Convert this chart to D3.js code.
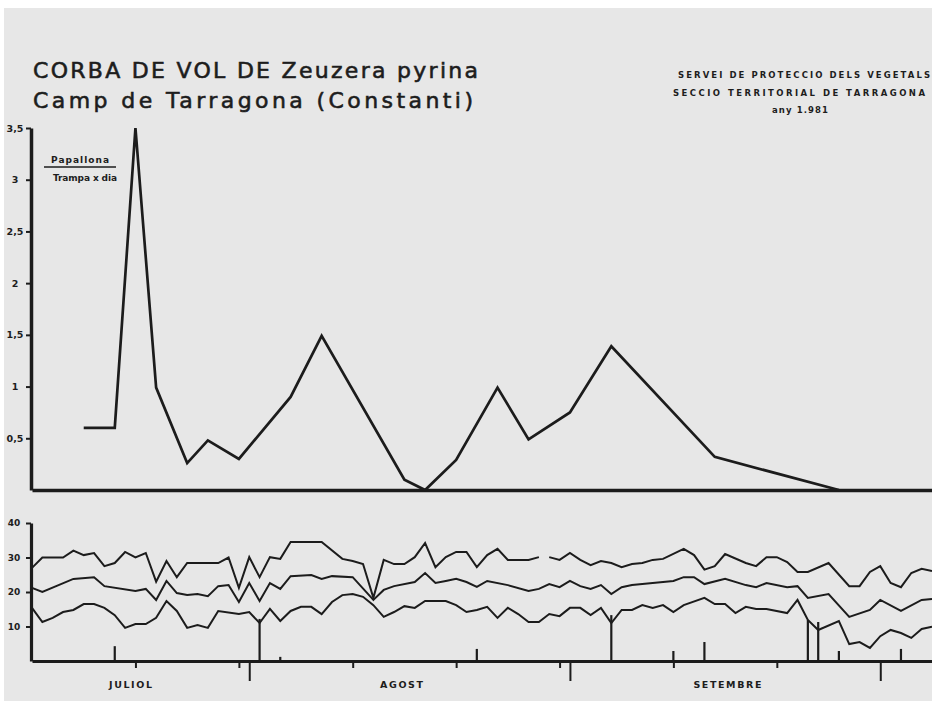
<!DOCTYPE html>
<html><head><meta charset="utf-8">
<script src="https://cdn.jsdelivr.net/npm/d3@7"></script>
<style>
html,body{margin:0;padding:0;background:#fff;}
svg{display:block;}
text{font-family:"DejaVu Sans",sans-serif;fill:#1d1d1d;}
</style></head>
<body>
<svg id="chart" width="932" height="701"></svg>
<script>
// ---------- DATA ----------
// Day index: 0 = 1 July 1981
const flightDays = [5, 8, 10, 12, 15, 17, 20, 25, 28, 36, 38, 41, 45, 48, 52, 56, 66, 78];
const flightVals = [0.6, 0.6, 3.5, 0.99, 0.26, 0.48, 0.3, 0.9, 1.49, 0.1, 0.0, 0.29, 0.99, 0.49, 0.75, 1.39, 0.32, 0.0];

const tmaxDays = [0,1,3,4,5,6,7,8,9,10,11,12,13,14,15,18,19,20,21,22,23,24,25,28,30,31,32,33,34,35,36,37,38,39,40,41,42,43,44,45,46,48,49,49.6,50,51,52,53,54,55,56,57,58,59,60,61,63,64,65,66,67,69,70,71,72,73,74,75,77,79,80,81,82,83,84,85,86,87];
const tmaxVals = [27,30,30,32,30.7,31.3,27.5,28.4,31.6,30,31.3,23,29,24.3,28.4,28.4,30,21.2,30.1,24.3,30.1,29.6,34.5,34.5,29.6,29,28.1,18.3,29.3,28.1,28.1,30.1,34.2,27.2,30.1,31.6,31.6,27.2,30.7,32.5,29.3,29.3,30.1,null,30.1,29.3,31.3,29.3,27.8,29,28.4,27.2,28.1,28.4,29.3,29.6,32.5,30.7,26.5,27.5,31,28.4,27.5,30.1,30.1,28.7,25.8,25.8,28.4,21.7,21.7,25.8,27.5,22.6,21.4,25.5,26.7,26.1];

const tmeanDays = [0,1,4,6,7,10,11,12,13,14,15,16,17,18,19,20,21,22,23,24,25,27,28,29,31,33,34,35,37,38,39,40,41,42,43,44,46,48,49,50,51,52,53,54,55,56,57,58,60,62,63,64,65,67,69,70,71,73,74,75,77,79,81,82,84,86,87];
const tmeanVals = [21.2,20,23.8,24.3,21.7,20.3,20.9,17.7,23.2,19.7,19.1,19.4,18.8,21.7,22,17.1,22.6,17.4,22.6,20.9,24.6,24.9,23.8,24.6,24.3,17.7,20.6,21.7,22.9,25.5,22.6,23.2,23.8,22.9,21.5,23.2,22,20.3,20.9,22.3,21.4,23.2,21.7,20.9,22,19.4,21.4,22,22.6,23.2,24.3,24.3,22.3,23.8,22,21.4,22.6,21.4,21.7,18.3,19.4,12.8,14.8,17.7,14.5,17.7,18];

const tminDays = [0,1,2,3,4,5,6,7,8,9,10,11,12,13,14,15,16,17,18,20,21,22,23,24,25,26,27,28,29,30,31,32,33,34,35,36,37,38,40,41,42,43,44,45,46,47,48,49,50,51,52,53,54,55,56,57,58,59,60,61,62,63,65,66,67,68,69,70,71,73,74,75,76,78,79,80,81,82,83,84,85,86,87];
const tminVals = [15.4,11.3,12.5,14.2,14.8,16.5,16.5,15.4,13.3,9.6,10.7,10.7,12.5,17.4,14.5,9.6,10.4,9.6,14.5,13.6,14.2,11,15.1,11.6,14.5,15.7,15.7,13.6,17.1,19.1,19.4,18.6,16.2,12.8,14.2,15.9,15.4,17.4,17.4,16.2,14.2,14.8,15.7,12.5,15.4,13.6,11.3,11.3,13.6,13,15.4,15.4,13.3,15.4,11,14.8,14.8,16.2,15.4,16.2,14.2,16.2,18.3,16.5,16.5,13.9,15.7,15.1,15.1,13.9,17.7,11.9,9,11.6,4.9,5.5,3.8,7.2,9,8.1,6.7,9.3,9.9];

const rainDays = [8, 22, 24, 43, 56, 62, 65, 75, 76, 78, 84];
const rainVals = [4.3, 12.2, 1.2, 3.5, 13.3, 2.9, 5.5, 11.9, 11.3, 2.9, 3.5];

const shortTickDays = [10, 20, 31, 41, 51, 62, 72];
const longTickDays = [21, 52, 82];

const monthNames = ["JULIOL", "AGOST", "SETEMBRE"];
const monthCenters = [9.6, 35.8, 67.3];

const topTicks = [0.5, 1, 1.5, 2, 2.5, 3, 3.5];
const bottomTicks = [10, 20, 30, 40];

// ---------- DRAW ----------
const svg = d3.select("#chart");
const ink = "#1c1c1c";

svg.append("rect").attr("x",0).attr("y",0).attr("width",932).attr("height",701).attr("fill","#ffffff");
svg.append("rect").attr("x",4).attr("y",8).attr("width",928).attr("height",693).attr("fill","#e7e7e7");

const x = d3.scaleLinear().domain([0, 87]).range([32, 932]);
const yTop = d3.scaleLinear().domain([0, 3.5]).range([490, 128]);
const yBot = d3.scaleLinear().domain([0, 40]).range([661, 523]);

// Titles
function txt(str, x0, y0, size, len, weight, sw){
  const t = svg.append("text").attr("x",x0).attr("y",y0)
    .style("font-size",size+"px").style("font-weight",weight||"normal")
    .attr("textLength",len).attr("lengthAdjust","spacing").text(str);
  if (sw) t.attr("stroke","#1d1d1d").attr("stroke-width",sw);
  return t;
}
txt("CORBA DE VOL DE Zeuzera pyrina", 33, 78, 22, 445, "normal", 0.6);
txt("Camp de Tarragona (Constanti)", 33, 108, 22, 440, "normal", 0.6);
txt("SERVEI DE PROTECCIO DELS VEGETALS", 678, 78, 8.5, 252, "bold");
txt("SECCIO TERRITORIAL DE TARRAGONA", 673, 96, 8.5, 252, "bold");
txt("any 1.981", 772, 113, 8.5, 56, "bold");

// Legend (unit)
txt("Papallona", 51, 163, 9, 58, "bold");
svg.append("line").attr("x1",44).attr("x2",116).attr("y1",167).attr("y2",167).attr("stroke",ink).attr("stroke-width",1.6);
txt("Trampa x dia", 53, 181, 9, 64, "bold");

// Upper axes
const gTopY = svg.append("g").attr("transform","translate(31,0)")
  .call(d3.axisLeft(yTop).tickValues(topTicks).tickSize(5).tickSizeOuter(0)
    .tickFormat(d => String(d).replace(".", ",")));
gTopY.select(".domain").attr("stroke",ink).attr("stroke-width",3.5);
gTopY.selectAll(".tick line").attr("stroke",ink).attr("stroke-width",2);
gTopY.selectAll(".tick text").attr("x",-16).attr("text-anchor","middle")
  .style("font-size","9.5px").style("font-weight","bold").style("font-family","DejaVu Sans").attr("fill",ink);

const gTopX = svg.append("g").attr("transform","translate(0,490)")
  .call(d3.axisBottom(x).tickValues([]).tickSizeOuter(0));
gTopX.select(".domain").attr("stroke",ink).attr("stroke-width",3.5);

// Flight curve
const flight = flightDays.map((d,i)=>({d, v: flightVals[i]}));
svg.append("path").datum(flight)
  .attr("d", d3.line().x(p=>x(p.d)).y(p=>yTop(p.v)))
  .attr("fill","none").attr("stroke",ink).attr("stroke-width",2.7).attr("stroke-linejoin","miter");

// Lower axes
const gBotY = svg.append("g").attr("transform","translate(31,0)")
  .call(d3.axisLeft(yBot).tickValues(bottomTicks).tickSize(5).tickSizeOuter(0));
gBotY.select(".domain").attr("stroke",ink).attr("stroke-width",3.2);
gBotY.selectAll(".tick line").attr("stroke",ink).attr("stroke-width",2);
gBotY.selectAll(".tick text").attr("x",-17).attr("text-anchor","middle")
  .style("font-size","9px").style("font-weight","bold").style("font-family","DejaVu Sans").attr("fill",ink);

const gBotX = svg.append("g").attr("transform","translate(0,661)")
  .call(d3.axisBottom(x).tickValues(shortTickDays).tickSize(7).tickSizeOuter(0).tickFormat(""));
gBotX.select(".domain").attr("stroke",ink).attr("stroke-width",3.2);
gBotX.selectAll(".tick line").attr("stroke",ink).attr("stroke-width",2);

const gBotX2 = svg.append("g").attr("transform","translate(0,661)")
  .call(d3.axisBottom(x).tickValues(longTickDays).tickSize(20).tickSizeOuter(0).tickFormat(""));
gBotX2.select(".domain").remove();
gBotX2.selectAll(".tick line").attr("stroke",ink).attr("stroke-width",2);

// Month labels
svg.selectAll("text.month").data(monthNames).enter().append("text")
  .attr("class","month")
  .attr("x",(m,i)=>x(monthCenters[i])).attr("y",688)
  .attr("text-anchor","middle")
  .style("font-size","9.5px").style("font-weight","bold")
  .style("letter-spacing","1.6px")
  .text(m=>m);

// Rain bars
svg.selectAll("line.rain").data(rainDays).enter().append("line")
  .attr("class","rain")
  .attr("x1",(d)=>x(d)).attr("x2",(d)=>x(d))
  .attr("y1",yBot(0)).attr("y2",(d,i)=>yBot(rainVals[i]))
  .attr("stroke",ink).attr("stroke-width",2.2);

// Temperature lines
const tLine = d3.line().defined(p=>p.v!=null).x(p=>x(p.d)).y(p=>yBot(p.v));
[[tmaxDays,tmaxVals],[tmeanDays,tmeanVals],[tminDays,tminVals]].forEach(([ds,vs])=>{
  svg.append("path").datum(ds.map((d,i)=>({d, v: vs[i]})))
    .attr("d", tLine).attr("fill","none").attr("stroke",ink)
    .attr("stroke-width",2).attr("stroke-linejoin","miter");
});
</script>
</body></html>
